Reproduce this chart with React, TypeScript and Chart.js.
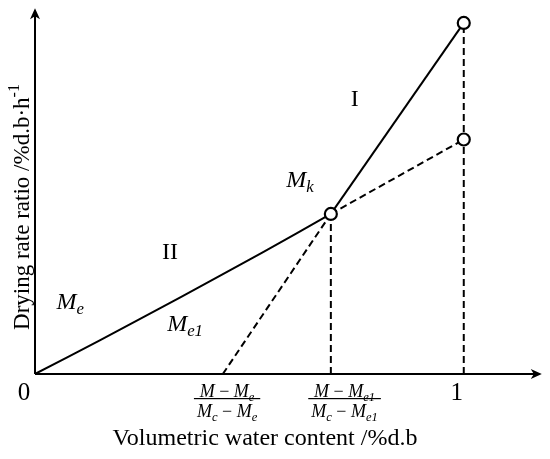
import React, { useEffect, useRef } from "react";
import { Chart, registerables } from "chart.js";

Chart.register(...registerables);

// ---- data ----
const curveX = [0, 0.15, 0.34, 0.53, 0.69];
const curveY = [0, 0.095, 0.219, 0.346, 0.456];
const stage1X = [0.69, 1.0];
const stage1Y = [0.456, 1.0];
const extendX = [0.69, 1.0];
const extendY = [0.456, 0.668];
const tangentX = [0.438, 0.69];
const tangentY = [0, 0.456];
const dropAX = [0.69, 0.69];
const dropAY = [0, 0.456];
const dropBX = [1.0, 1.0];
const dropBY = [0, 1.0];
const markerX = [0.69, 1.0, 1.0];
const markerY = [0.456, 1.0, 0.668];

const xMaxVal = 1.182;
const yMaxVal = 1.042;

const xTitle = "Volumetric water content /%d.b";
const yTitle = "Drying rate ratio /%d.b·h";
const yTitleSup = "-1";

type Seg = { t: string; it?: boolean; sub?: boolean; sup?: boolean };

const regionLabels: { x: number; y: number; segs: Seg[] }[] = [
  { x: 0.082, y: 0.208, segs: [{ t: "M", it: true }, { t: "e", it: true, sub: true }] },
  { x: 0.35, y: 0.144, segs: [{ t: "M", it: true }, { t: "e1", it: true, sub: true }] },
  { x: 0.315, y: 0.349, segs: [{ t: "II" }] },
  { x: 0.746, y: 0.786, segs: [{ t: "I" }] },
  { x: 0.618, y: 0.555, segs: [{ t: "M", it: true }, { t: "k", it: true, sub: true }] },
];

const fractionTicks: { x: number; num: Seg[]; den: Seg[] }[] = [
  {
    x: 0.448,
    num: [{ t: "M", it: true }, { t: " − " }, { t: "M", it: true }, { t: "e", it: true, sub: true }],
    den: [{ t: "M", it: true }, { t: "c", it: true, sub: true }, { t: " − " }, { t: "M", it: true }, { t: "e", it: true, sub: true }],
  },
  {
    x: 0.722,
    num: [{ t: "M", it: true }, { t: " − " }, { t: "M", it: true }, { t: "e1", it: true, sub: true }],
    den: [{ t: "M", it: true }, { t: "c", it: true, sub: true }, { t: " − " }, { t: "M", it: true }, { t: "e1", it: true, sub: true }],
  },
];

const plainTicks = [
  { x: 0, label: "0", dx: -11 },
  { x: 1, label: "1", dx: -7 },
];

const FONT = '"Liberation Serif", "Times New Roman", serif';

function pts(xs: number[], ys: number[]) {
  return xs.map((x, i) => ({ x, y: ys[i] }));
}

function segFont(s: Seg, size: number) {
  const sz = s.sub || s.sup ? size * 0.7 : size;
  return `${s.it ? "italic " : ""}${sz}px ${FONT}`;
}

function richWidth(ctx: CanvasRenderingContext2D, segs: Seg[], size: number) {
  let w = 0;
  for (const s of segs) {
    ctx.font = segFont(s, size);
    w += ctx.measureText(s.t).width;
  }
  return w;
}

function drawRich(ctx: CanvasRenderingContext2D, segs: Seg[], cx: number, cy: number, size: number) {
  const w = richWidth(ctx, segs, size);
  let x = cx - w / 2;
  const base = cy + size * 0.33;
  ctx.textAlign = "left";
  ctx.textBaseline = "alphabetic";
  for (const s of segs) {
    ctx.font = segFont(s, size);
    let y = base;
    if (s.sub) y = base + size * 0.2;
    if (s.sup) y = base - size * 0.42;
    ctx.fillText(s.t, x, y);
    x += ctx.measureText(s.t).width;
  }
  return w;
}

const decorPlugin = {
  id: "decor",
  beforeDatasetsDraw(chart: any) {
    const ctx: CanvasRenderingContext2D = chart.ctx;
    const xs = chart.scales.x;
    const ys = chart.scales.y;
    const x0 = xs.getPixelForValue(0);
    const y0 = ys.getPixelForValue(0);
    const xEnd = xs.getPixelForValue(xMaxVal);
    const yEnd = ys.getPixelForValue(yMaxVal);
    ctx.save();
    ctx.strokeStyle = "#000";
    ctx.fillStyle = "#000";
    ctx.lineWidth = 2;
    ctx.beginPath();
    ctx.moveTo(x0, y0);
    ctx.lineTo(x0, yEnd + 6);
    ctx.moveTo(x0, y0);
    ctx.lineTo(xEnd - 6, y0);
    ctx.stroke();
    // arrows
    ctx.beginPath();
    ctx.moveTo(x0, yEnd);
    ctx.lineTo(x0 - 5, yEnd + 11);
    ctx.lineTo(x0, yEnd + 8);
    ctx.lineTo(x0 + 5, yEnd + 11);
    ctx.closePath();
    ctx.fill();
    ctx.beginPath();
    ctx.moveTo(xEnd, y0);
    ctx.lineTo(xEnd - 11, y0 - 5);
    ctx.lineTo(xEnd - 8, y0);
    ctx.lineTo(xEnd - 11, y0 + 5);
    ctx.closePath();
    ctx.fill();
    ctx.restore();
  },
  afterDraw(chart: any) {
    const ctx: CanvasRenderingContext2D = chart.ctx;
    const xs = chart.scales.x;
    const ys = chart.scales.y;
    const y0 = ys.getPixelForValue(0);
    ctx.save();
    ctx.fillStyle = "#000";
    // region labels
    for (const r of regionLabels) {
      drawRich(ctx, r.segs, xs.getPixelForValue(r.x), ys.getPixelForValue(r.y), 24);
    }
    // plain ticks
    for (const t of plainTicks) {
      drawRich(ctx, [{ t: t.label }], xs.getPixelForValue(t.x) + t.dx, y0 + 18, 25);
    }
    // fraction ticks
    for (const f of fractionTicks) {
      const cx = xs.getPixelForValue(f.x);
      const size = 18;
      const wn = drawRich(ctx, f.num, cx, y0 + 17, size);
      const wd = drawRich(ctx, f.den, cx, y0 + 37, size);
      const w = Math.max(wn, wd) + 6;
      ctx.fillRect(cx - w / 2, y0 + 24, w, 1.2);
    }
    // x title
    drawRich(ctx, [{ t: xTitle }], 265, 437, 24);
    // y title
    ctx.translate(21, 207);
    ctx.rotate(-Math.PI / 2);
    drawRich(ctx, [{ t: yTitle }, { t: yTitleSup, sup: true }], 0, 0, 23);
    ctx.restore();
  },
};

export default function App() {
  const ref = useRef<HTMLCanvasElement | null>(null);
  useEffect(() => {
    if (!ref.current) return;
    const solid = { borderColor: "#000", borderWidth: 2, pointRadius: 0, showLine: true, fill: false };
    const dashed = { ...solid, borderDash: [7, 4] };
    const chart = new Chart(ref.current, {
      type: "scatter",
      data: {
        datasets: [
          {
            data: pts(markerX, markerY),
            showLine: false,
            pointRadius: 6,
            pointBorderWidth: 2.2,
            pointBackgroundColor: "#fff",
            pointBorderColor: "#000",
          } as any,
          { ...solid, data: pts(curveX, curveY), tension: 0.3 } as any,
          { ...solid, data: pts(stage1X, stage1Y) } as any,
          { ...dashed, data: pts(extendX, extendY) } as any,
          { ...dashed, data: pts(tangentX, tangentY) } as any,
          { ...dashed, data: pts(dropAX, dropAY) } as any,
          { ...dashed, data: pts(dropBX, dropBY) } as any,
        ],
      },
      options: {
        responsive: false,
        animation: false,
        devicePixelRatio: 1,
        layout: { padding: { left: 35, right: 8, top: 4, bottom: 85 } },
        plugins: { legend: { display: false }, tooltip: { enabled: false } },
        scales: {
          x: { type: "linear", min: 0, max: xMaxVal, display: false },
          y: { type: "linear", min: 0, max: yMaxVal, display: false },
        },
      },
      plugins: [decorPlugin],
    } as any);
    return () => chart.destroy();
  }, []);
  return (
    <div style={{ position: "fixed", left: 0, top: 0, width: 550, height: 459, background: "#fff" }}>
      <canvas ref={ref} width={550} height={459} />
    </div>
  );
}
